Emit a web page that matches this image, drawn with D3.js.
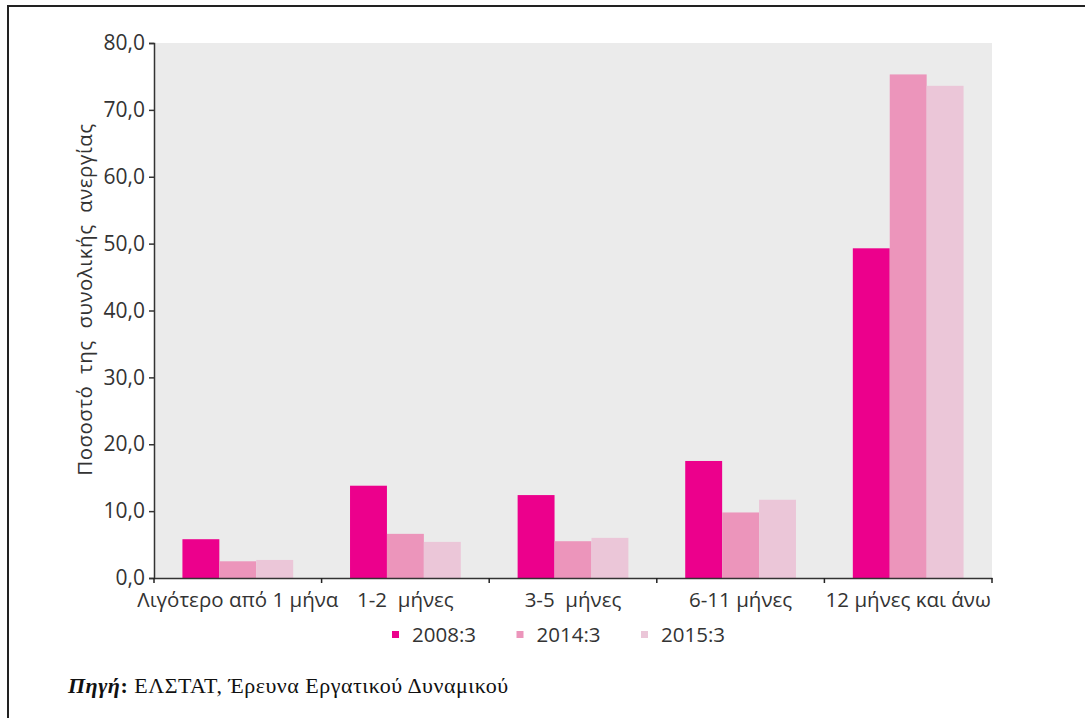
<!DOCTYPE html>
<html>
<head>
<meta charset="utf-8">
<script src="https://cdn.jsdelivr.net/npm/d3@7"></script>
<style>
  body { margin: 0; background: #fff; }
  svg { display: block; }
  .axis text { font-family: "Open Sans", sans-serif; fill: #333; }
</style>
</head>
<body>
<svg id="chart" width="1085" height="718"></svg>
<script>
// categories along the x axis
const categories = ['Λιγότερο από 1 μήνα', '1-2  μήνες', '3-5  μήνες', '6-11 μήνες', '12 μήνες και άνω'];
const seriesNames = ['2008:3', '2014:3', '2015:3'];
const values2008 = [5.8, 13.8, 12.4, 17.5, 49.3];
const values2014 = [2.5, 6.6, 5.5, 9.8, 75.3];
const values2015 = [2.7, 5.4, 6.0, 11.7, 73.6];
const yTicks = [0, 10, 20, 30, 40, 50, 60, 70, 80];

const seriesValues = [values2008, values2014, values2015];
const colors = ['#ec008c', '#ec95bb', '#ebc6d8'];

const svg = d3.select('#chart');

// outer frame
svg.append('rect')
  .attr('x', 8).attr('y', 6)
  .attr('width', 1100).attr('height', 730)
  .style('fill', 'none')
  .style('stroke', '#222')
  .style('stroke-width', 2);

const margin = {left: 154, top: 43, right: 93, bottom: 140};
const width = 1085 - margin.left - margin.right;
const height = 718 - margin.top - margin.bottom;

const g = svg.append('g').attr('transform', `translate(${margin.left},${margin.top})`);

const x = d3.scaleBand().domain(categories).range([0, width]).padding(0);
const xInner = d3.scaleBand().domain(seriesNames).range([0, x.bandwidth()])
  .paddingInner(0).paddingOuter(0.77);
const y = d3.scaleLinear().domain([0, 80]).range([height, 0]);

// plot background
g.append('rect')
  .attr('width', width).attr('height', height)
  .style('fill', '#ebebeb');

// bars
const rows = [];
categories.forEach((c, i) => {
  seriesNames.forEach((s, j) => rows.push({cat: c, series: s, value: seriesValues[j][i], color: colors[j]}));
});

g.selectAll('rect.bar')
  .data(rows)
  .enter().append('rect')
  .attr('class', 'bar')
  .attr('x', (d) => x(d.cat) + xInner(d.series))
  .attr('y', (d) => y(d.value))
  .attr('width', xInner.bandwidth())
  .attr('height', (d) => height - y(d.value))
  .style('fill', (d) => d.color);

// y axis
const yAxis = g.append('g')
  .attr('class', 'axis')
  .call(d3.axisLeft(y).tickValues(yTicks).tickSize(5).tickPadding(4)
    .tickFormat((d) => d3.format('.1f')(d).replace('.', ',')));
yAxis.selectAll('text').style('font-size', '21px');

// x axis with ticks at band boundaries
const xAxis = g.append('g')
  .attr('class', 'axis')
  .attr('transform', `translate(0,${height})`)
  .call(d3.axisBottom(x).tickSize(0).tickPadding(14));
xAxis.selectAll('text')
  .style('font-size', '20.5px')
  .style('white-space', 'pre');
const bounds = categories.map((c) => x(c)).concat([width]);
xAxis.selectAll('line.bound')
  .data(bounds)
  .enter().append('line')
  .attr('class', 'bound')
  .attr('x1', (d) => d).attr('x2', (d) => d)
  .attr('y1', 0).attr('y2', 5)
  .style('stroke', '#222')
  .style('stroke-width', 1.5);

svg.selectAll('.axis path.domain').style('stroke', '#333').style('stroke-width', 1.5);
svg.selectAll('.axis .tick line').style('stroke', '#333').style('stroke-width', 1.5);

// y axis title
svg.append('text')
  .attr('transform', `translate(92,${margin.top + height / 2 - 11}) rotate(-90)`)
  .attr('text-anchor', 'middle')
  .style('font-family', '"Open Sans", sans-serif')
  .style('font-size', '20.5px')
  .style('letter-spacing', '0.5px')
  .style('white-space', 'pre')
  .style('fill', '#333')
  .text('Ποσοστό  της  συνολικής  ανεργίας');

// legend
const legend = svg.append('g').attr('transform', 'translate(392,635)');
const legendX = d3.scalePoint().domain(seriesNames).range([0, 249]);
const items = legend.selectAll('g')
  .data(seriesNames)
  .enter().append('g')
  .attr('transform', (d) => `translate(${legendX(d)},0)`);
items.append('rect')
  .attr('x', 0).attr('y', -4)
  .attr('width', 7).attr('height', 7)
  .style('fill', (d, i) => colors[i]);
items.append('text')
  .attr('x', 20).attr('dy', '0.35em')
  .style('font-family', '"Open Sans", sans-serif')
  .style('font-size', '20.5px')
  .style('fill', '#333')
  .text((d) => d);

// source note
const src = svg.append('text')
  .attr('x', 68).attr('y', 693)
  .style('font-family', '"Liberation Serif", serif')
  .style('font-size', '22px')
  .style('letter-spacing', '0.5px')
  .style('fill', '#111');
src.append('tspan').style('font-weight', 'bold').style('font-style', 'italic').text('Πηγή');
src.append('tspan').style('font-weight', 'bold').text(':');
src.append('tspan').text(' ΕΛΣΤΑΤ, Έρευνα Εργατικού Δυναμικού');
</script>
</body>
</html>
